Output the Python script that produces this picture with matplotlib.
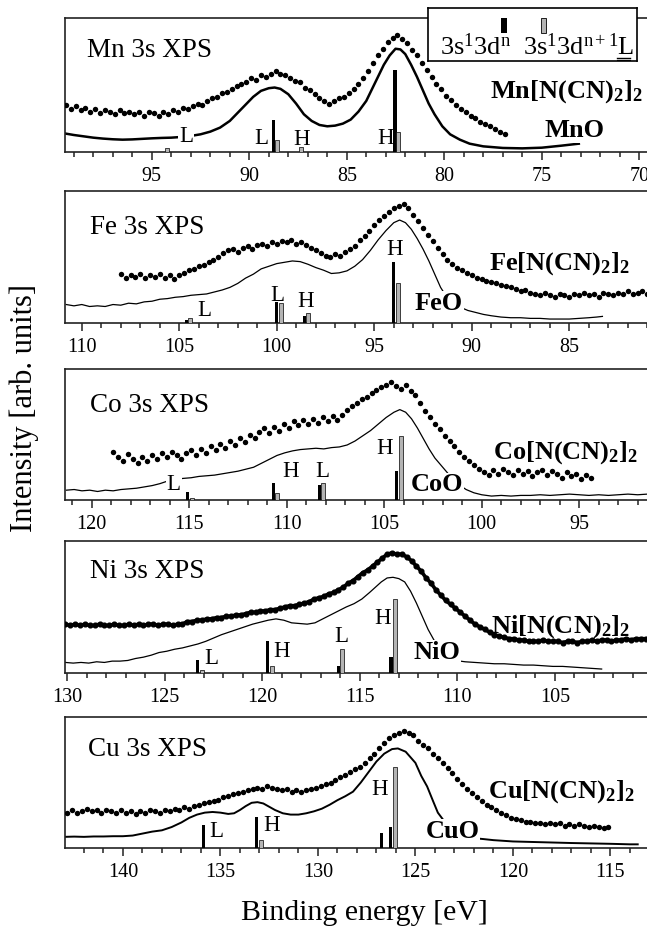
import numpy as np
import matplotlib
matplotlib.use("Agg")
import matplotlib.pyplot as plt
from matplotlib.patches import Rectangle
from matplotlib.ticker import MultipleLocator, FormatStrFormatter

plt.rcParams['font.family'] = ['Liberation Serif', 'DejaVu Serif']
plt.rcParams['mathtext.fontset'] = 'custom'
plt.rcParams['mathtext.rm'] = 'Liberation Serif'
plt.rcParams['mathtext.it'] = 'Liberation Serif:italic'
plt.rcParams['mathtext.bf'] = 'Liberation Serif:bold'
plt.rcParams['mathtext.default'] = 'regular'

# ---- data (intensity in % of panel height, energies in eV) ----
# dots: M[N(CN)2]2, sampled every 0.25 eV from the start energy downwards
mn_dot_start = 99.4
mn_dots = [35, 32, 34, 31, 33, 30, 32, 29, 31, 30, 28, 31, 29, 30, 28, 30, 27, 30, 29, 27,
           30, 28, 31, 30, 33, 32, 34, 36, 35, 38, 40, 41, 44, 45, 47, 49, 51, 52, 55, 54,
           57, 56, 58, 60, 58, 57, 55, 53, 52, 48, 46, 43, 40, 38, 36, 38, 40, 41, 44, 47,
           51, 55, 60, 66, 72, 77, 82, 85, 87, 84, 81, 76, 72, 66, 61, 56, 51, 47, 42, 39,
           35, 32, 30, 27, 25, 22, 21, 19, 17, 15, 13]
fe_dot_start = 108.0
fe_dots = [37, 34, 36, 35, 37, 34, 36, 35, 37, 34, 36, 33, 36, 38, 40, 41, 43, 44, 46, 48,
           50, 53, 55, 56, 54, 57, 58, 56, 59, 60, 58, 61, 60, 62, 61, 63, 60, 61, 59, 57,
           55, 53, 51, 50, 52, 51, 54, 56, 58, 63, 66, 70, 74, 78, 81, 84, 87, 89, 90, 87,
           82, 77, 72, 67, 62, 57, 52, 48, 45, 42, 40, 38, 36, 34, 33, 32, 31, 30, 29, 28,
           27, 26, 24, 25, 23, 22, 21, 23, 21, 20, 22, 21, 20, 22, 21, 23, 21, 22, 20, 23,
           22, 21, 23, 22, 24, 22, 23, 24, 22]
co_dot_start = 118.9
co_dots = [37, 33, 30, 35, 31, 28, 33, 30, 34, 31, 36, 33, 37, 34, 31, 36, 38, 34, 39, 36,
           41, 38, 43, 40, 45, 42, 47, 44, 50, 47, 52, 55, 51, 56, 53, 58, 55, 60, 57, 61,
           58, 62, 59, 63, 60, 64, 61, 65, 69, 72, 74, 77, 79, 82, 84, 86, 88, 90, 87, 85,
           88, 83, 80, 74, 68, 63, 58, 54, 49, 45, 41, 37, 33, 30, 27, 24, 21, 19, 23, 20,
           24, 21, 19, 23, 20, 22, 18, 21, 23, 19, 22, 20, 17, 21, 18, 20, 16, 19, 17]
ni_dot_start = 130.1
ni_dots = [37, 36, 37, 36, 37, 36, 36, 37, 36, 36, 37, 36, 36, 37, 36, 37, 36, 37, 37, 36,
           37, 37, 36, 37, 37, 39, 39, 40, 40, 41, 41, 42, 42, 43, 43, 44, 44, 45, 46, 46,
           47, 47, 48, 48, 49, 50, 51, 51, 52, 53, 54, 56, 57, 58, 60, 61, 63, 65, 68, 70,
           73, 76, 78, 81, 84, 87, 90, 91, 90, 90, 88, 85, 81, 77, 72, 68, 63, 59, 55, 52,
           49, 46, 43, 40, 37, 35, 33, 31, 29, 28, 27, 26, 26, 25, 25, 24, 24, 24, 25, 24,
           24, 24, 23, 24, 24, 23, 24, 24, 25, 24, 25, 25, 24, 25, 25, 26, 25, 26, 26, 26]
cu_dot_start = 143.1
cu_dots = [28, 27, 29, 27, 28, 30, 28, 29, 27, 29, 28, 27, 29, 27, 28, 26, 28, 27, 29, 28,
           27, 29, 28, 30, 29, 31, 30, 32, 33, 34, 35, 36, 37, 39, 40, 41, 42, 43, 44, 45,
           46, 45, 47, 46, 45, 44, 45, 43, 44, 43, 44, 45, 46, 47, 49, 50, 52, 54, 56, 58,
           60, 62, 65, 69, 72, 76, 80, 84, 86, 88, 89, 88, 86, 82, 79, 76, 72, 69, 65, 61,
           57, 53, 49, 45, 42, 39, 36, 33, 31, 29, 27, 25, 23, 22, 21, 20, 20, 19, 19, 18,
           19, 18, 19, 17, 18, 17, 18, 17, 16, 17, 16, 15, 16]
dot_step = 0.25

# solid lines: oxides MO
mn_line_e = [99.4, 99.0, 98.5, 98.0, 97.5, 97.0, 96.5, 96.0, 95.5, 95.0, 94.5, 94.0, 93.5, 93.0,
             92.5, 92.0, 91.5, 91.0, 90.6, 90.2, 89.8, 89.4, 89.0, 88.7, 88.4, 88.0, 87.6, 87.2,
             86.8, 86.4, 86.0, 85.6, 85.2, 84.8, 84.4, 84.0, 83.7, 83.4, 83.1, 82.8, 82.5, 82.25,
             82.0, 81.7, 81.4, 81.1, 80.8, 80.5, 80.1, 79.7, 79.2, 78.7, 78.0, 77.0, 76.0, 75.0,
             74.0, 73.1]
mn_line = [13.5, 12.5, 11.5, 10.5, 9.8, 9.3, 9.0, 9.2, 9.6, 10.0, 10.3, 10.5, 11.0, 11.8,
           13.0, 15.0, 18.0, 23, 29, 35, 41, 45.5, 47.5, 48, 47, 43, 36, 28,
           23, 20, 19, 19.5, 21, 24, 30, 38, 47, 56, 65, 72, 77, 76.5,
           73, 65, 56, 46, 36, 28, 19, 13, 9, 6, 4, 2.8, 2.5, 3.0,
           4.5, 6.0]
fe_line_e = [110.8, 110.4, 110.0, 109.6, 109.2, 108.8, 108.4, 108.0, 107.6, 107.2, 106.8, 106.4,
             106.0, 105.6, 105.2, 104.8, 104.4, 104.0, 103.6, 103.2, 102.8, 102.4, 102.0, 101.6,
             101.2, 100.8, 100.4, 100.0, 99.6, 99.2, 98.8, 98.4, 98.0, 97.6, 97.2, 96.8, 96.4,
             96.0, 95.6, 95.2, 94.8, 94.4, 94.0, 93.7, 93.4, 93.1, 92.8, 92.5, 92.2, 91.9, 91.6,
             91.3, 91.0, 90.6, 90.2, 89.8, 89.4, 89.0, 88.5, 88.0, 87.5, 87.0, 86.5, 86.0, 85.5,
             85.0, 84.5, 84.0, 83.6, 83.3]
fe_line = [14, 13, 14, 12.5, 13, 12.5, 14, 13.5, 15, 14.5, 16, 16.5,
           18, 18.5, 19.5, 20, 21, 21.5, 22, 23.5, 25, 27, 30, 34,
           37, 41, 43, 45, 46, 47, 46.5, 44.5, 42, 40, 37.5, 38, 39.5,
           43, 48, 55, 63, 70, 76, 78, 76, 71, 64, 56, 47, 37, 27,
           20, 15, 12, 9.5, 8, 6.5, 5.5, 4.5, 4, 4, 3.5, 3.5, 3, 3,
           3, 3.5, 4, 4.5, 5]
co_line_e = [121.3, 120.9, 120.5, 120.1, 119.7, 119.3, 118.9, 118.5, 118.1, 117.7, 117.3, 116.9,
             116.5, 116.2, 115.9, 115.6, 115.3, 114.9, 114.5, 114.1, 113.7, 113.3, 112.9, 112.5,
             112.1, 111.7, 111.3, 110.9, 110.5, 110.1, 109.7, 109.3, 108.9, 108.5, 108.1, 107.7,
             107.3, 106.9, 106.5, 106.1, 105.7, 105.3, 104.9, 104.5, 104.2, 103.9, 103.6, 103.3,
             103.0, 102.7, 102.4, 102.0, 101.6, 101.2, 100.8, 100.4, 100.0, 99.5, 99.0, 98.5,
             98.0, 97.5, 97.0, 96.5, 96.0, 95.5, 95.0, 94.5, 94.0, 93.5, 93.0, 92.5, 92.0, 91.5]
co_line = [7.5, 8, 7, 7.5, 6.5, 7.5, 7, 8, 8.5, 9, 10, 11,
           12.5, 14, 15.5, 16, 16.5, 17, 18, 18.5, 19, 20, 21, 22,
           23.5, 25, 28, 31, 34, 36, 37.5, 38.5, 39, 39.5, 39, 40,
           40.5, 42, 45, 49, 53, 58, 63, 67, 69, 67, 62, 55,
           47, 39, 32, 25, 18, 12, 8, 5.5, 4, 3, 3.5, 3,
           3.5, 3.5, 4, 3.5, 4, 4.5, 4, 3.5, 4, 3.5, 4, 4.5, 4, 4.5]
ni_line_e = [130.1, 129.7, 129.3, 128.9, 128.5, 128.1, 127.7, 127.3, 126.9, 126.5, 126.1, 125.7,
             125.3, 124.9, 124.5, 124.1, 123.7, 123.3, 122.9, 122.5, 122.1, 121.7, 121.3, 120.9,
             120.5, 120.1, 119.7, 119.3, 118.9, 118.5, 118.1, 117.7, 117.3, 116.9, 116.5, 116.1,
             115.7, 115.3, 114.9, 114.5, 114.2, 113.9, 113.6, 113.3, 113.0, 112.7, 112.4, 112.1,
             111.8, 111.5, 111.2, 110.9, 110.5, 110.1, 109.6, 109.1, 108.6, 108.1, 107.6, 107.1,
             106.6, 106.1, 105.6, 105.1, 104.6, 104.1, 103.6, 103.1, 102.6]
ni_line = [8, 7.5, 8, 7.5, 8.5, 8, 9, 9, 9.5, 11, 12, 13.5,
           15.5, 16.5, 18, 19, 20.5, 22, 24, 26.5, 29, 31, 33, 35,
           37, 38.5, 40, 41, 40, 38, 37.5, 37, 38, 41, 44, 47,
           50, 52.5, 56, 61, 65, 69, 72, 72.5, 71.5, 69, 62, 53,
           43, 33, 25, 18, 12, 9.5, 8.5, 8, 7.5, 7, 7, 6.5,
           6, 6, 5.5, 5, 5, 4.5, 4, 3.5, 3]
cu_line_e = [143.0, 142.5, 142.0, 141.5, 141.0, 140.5, 140.0, 139.5, 139.0, 138.5, 138.0, 137.5,
             137.0, 136.6, 136.2, 135.8, 135.4, 135.0, 134.6, 134.3, 134.0, 133.7, 133.4, 133.1,
             132.8, 132.5, 132.2, 131.8, 131.4, 131.0, 130.6, 130.2, 129.8, 129.4, 129.0, 128.6,
             128.2, 127.8, 127.4, 127.0, 126.6, 126.2, 125.9, 125.5, 125.0, 124.7, 124.4, 124.1,
             123.85, 123.4, 123.0, 122.5, 122.0, 121.5, 121.0, 120.0, 119.0, 118.0, 117.0, 116.0,
             115.0, 114.0, 113.6]
cu_line = [8.5, 8.7, 8.5, 8.8, 8.8, 9, 9, 9.5, 11, 12.5, 13.5, 16,
           19.5, 23, 25.5, 27, 27.5, 27, 26, 26.5, 29, 32, 34.5, 35,
           34, 31.5, 29, 26.5, 25.5, 25.5, 26.5, 28, 30, 33, 36.5, 39.5,
           43, 50, 58, 66, 72, 75.5, 76, 73.5, 65, 55, 47, 36,
           27, 18, 12, 9, 7.5, 6.8, 6, 5, 4.6, 4.2, 3.8, 3.5,
           3.2, 2.8, 2.8]

# stick spectra: black = 3s1 3d^n, grey = 3s1 3d^n+1 L
mn_black_e = [88.77, 82.53]
mn_black_h = [24, 61]
mn_grey_e = [94.2, 88.56, 87.36, 82.36]
mn_grey_h = [2.5, 9, 3.8, 15]
fe_black_e = [104.65, 100.0, 98.6, 94.02]
fe_black_h = [2, 16, 5, 46.5]
fe_grey_e = [104.45, 99.78, 98.4, 93.8]
fe_grey_h = [4, 15, 7.5, 30.5]
co_black_e = [115.1, 110.69, 108.34, 104.35]
co_black_h = [6.4, 13, 11.5, 22]
co_grey_e = [114.87, 110.48, 108.14, 104.13]
co_grey_h = [1.3, 5.6, 13, 49]
ni_black_e = [123.32, 119.72, 116.1, 113.4]
ni_black_h = [10, 24.6, 5, 12]
ni_grey_e = [123.11, 119.52, 115.93, 113.2]
ni_grey_h = [2, 5, 18, 56]
cu_black_e = [135.86, 133.14, 126.75, 126.3]
cu_black_h = [17.6, 24, 11.7, 16]
cu_grey_e = [132.93, 126.07]
cu_grey_h = [6, 62]

# peak labels (energy, height %, text)
mn_marks = [(93.24, 11, 'L'), (89.36, 10, 'L'), (87.3, 9, 'H'), (83.0, 9.5, 'H')]
fe_marks = [(103.7, 9.5, 'L'), (99.97, 21, 'L'), (98.52, 16, 'H'), (93.94, 56, 'H')]
co_marks = [(115.8, 11.5, 'L'), (109.8, 21.7, 'H'), (108.2, 21.7, 'L'), (104.97, 39, 'H')]
ni_marks = [(122.6, 11, 'L'), (119.0, 16, 'H'), (115.93, 28, 'L'), (113.84, 41, 'H')]
cu_marks = [(135.23, 12.5, 'L'), (132.4, 17, 'H'), (126.83, 45, 'H')]

titles = ['Mn 3s XPS', 'Fe 3s XPS', 'Co 3s XPS', 'Ni 3s XPS', 'Cu 3s XPS']
compounds = ['Mn[N(CN)$_2$]$_2$', 'Fe[N(CN)$_2$]$_2$', 'Co[N(CN)$_2$]$_2$',
             'Ni[N(CN)$_2$]$_2$', 'Cu[N(CN)$_2$]$_2$']
oxides = ['MnO', 'FeO', 'CoO', 'NiO', 'CuO']
oxide_pos = [(73.3, 15.6), (91.68, 15), (102.3, 11.5), (111.05, 15.5), (123.1, 12.5)]
x_left = [99.45, 110.86, 121.37, 130.12, 142.97]

# ---- layout in pixels of the 647x927 picture ----
W, H = 647.0, 927.0
px_per_ev = 19.5
ax_left, ax_width = 65, 584
panel_tb = [(18, 151.7), (191, 323), (369, 500), (541, 673), (717, 848)]
title_pos = [(0.037, 76), (0.043, 72), (0.043, 72), (0.042, 77), (0.040, 75)]
comp_pos = [(0.988, 45), (0.9675, 45), (0.981, 36), (0.968, 35), (0.975, 43)]

fig = plt.figure(figsize=(W / 100, H / 100), dpi=100)

dots = [(mn_dot_start, mn_dots), (fe_dot_start, fe_dots), (co_dot_start, co_dots),
        (ni_dot_start, ni_dots), (cu_dot_start, cu_dots)]
lines = [(mn_line_e, mn_line, 1.8), (fe_line_e, fe_line, 0.9), (co_line_e, co_line, 0.9),
         (ni_line_e, ni_line, 0.9), (cu_line_e, cu_line, 1.4)]
sticks = [(mn_black_e, mn_black_h, mn_grey_e, mn_grey_h),
          (fe_black_e, fe_black_h, fe_grey_e, fe_grey_h),
          (co_black_e, co_black_h, co_grey_e, co_grey_h),
          (ni_black_e, ni_black_h, ni_grey_e, ni_grey_h),
          (cu_black_e, cu_black_h, cu_grey_e, cu_grey_h)]
marks = [mn_marks, fe_marks, co_marks, ni_marks, cu_marks]
white = dict(facecolor='white', edgecolor='none', pad=0.6)

for i in range(5):
    top, bot = panel_tb[i]
    ax = fig.add_axes([ax_left / W, 1 - bot / H, ax_width / W, (bot - top) / H])
    x0 = x_left[i]
    ax.set_xlim(x0, x0 - ax_width / px_per_ev)
    ax.set_ylim(0, 100)

    start, vals = dots[i]
    e = start - dot_step * np.arange(len(vals))
    if i == 3:
        ax.plot(e, vals, '-o', color='black', lw=2.6, ms=3.4, zorder=5)
    else:
        ax.plot(e, vals, 'o', color='black', ms=3.9, mew=0, zorder=5)

    le, lv, lw = lines[i]
    ax.plot(le, lv, '-', color='black', lw=lw, zorder=2)

    be, bh, ge, gh = sticks[i]
    ax.bar(be, bh, width=0.16, color='black', zorder=4)
    ax.bar(ge, gh, width=0.2, color='#b4b4b4', edgecolor='black', linewidth=0.5, zorder=4)

    for me, mh, s in marks[i]:
        ax.text(me, mh, s, ha='center', va='center', fontsize=16.5, bbox=white, zorder=3)

    ax.text(oxide_pos[i][0], oxide_pos[i][1], oxides[i], ha='center', va='center',
            fontsize=19, fontweight='bold', bbox=white, zorder=3)
    ax.text(comp_pos[i][0], comp_pos[i][1] / 100, compounds[i], transform=ax.transAxes,
            ha='right', va='center', fontsize=19, fontweight='bold', zorder=6)
    ax.text(title_pos[i][0], title_pos[i][1] / 100, titles[i], transform=ax.transAxes,
            ha='left', va='center', fontsize=19.5)

    ax.set_yticks([])
    ax.xaxis.set_major_locator(MultipleLocator(5))
    ax.xaxis.set_minor_locator(MultipleLocator(1))
    ax.xaxis.set_major_formatter(FormatStrFormatter('%d'))
    ax.tick_params(axis='x', which='major', direction='out', length=6, width=1.1,
                   labelsize=14.5, pad=5, color='#222222')
    ax.tick_params(axis='x', which='minor', direction='out', length=3.5, width=1.1,
                   color='#222222')
    for sp in ax.spines.values():
        sp.set_linewidth(1.2)
        sp.set_color('#222222')

# legend box at the top right
leg = fig.add_axes([428.3 / W, 1 - 61 / H, 208.4 / W, 52.7 / H], zorder=10)
leg.set_facecolor('white')
leg.set_xlim(0, 1)
leg.set_ylim(0, 1)
leg.set_xticks([])
leg.set_yticks([])
for sp in leg.spines.values():
    sp.set_linewidth(1.2)
    sp.set_color('black')
leg.text(0.056, 0.114, '3s$^1$3d$^n$', fontsize=19, va='baseline', ha='left')
leg.text(0.454, 0.114, '3s$^1$3d$^{n+1}$L', fontsize=19, va='baseline', ha='left')
leg.plot([0.905, 0.968], [0.06, 0.06], color='black', lw=1.0)
leg.plot([0.905, 0.968], [0.02, 0.02], color='black', lw=0.8)
leg.add_patch(Rectangle((0.349, 0.53), 0.029, 0.286, facecolor='black', edgecolor='none'))
leg.add_patch(Rectangle((0.539, 0.53), 0.024, 0.286, facecolor='#b4b4b4', edgecolor='black',
                        linewidth=0.6))

fig.text(364 / W, 1 - 913 / H, 'Binding energy [eV]', ha='center', va='center', fontsize=21.5)
fig.text(24 / W, 1 - 408 / H, 'Intensity [arb. units]', rotation=90, ha='center',
         va='center', fontsize=22)

fig.savefig('out.png', dpi=100)
